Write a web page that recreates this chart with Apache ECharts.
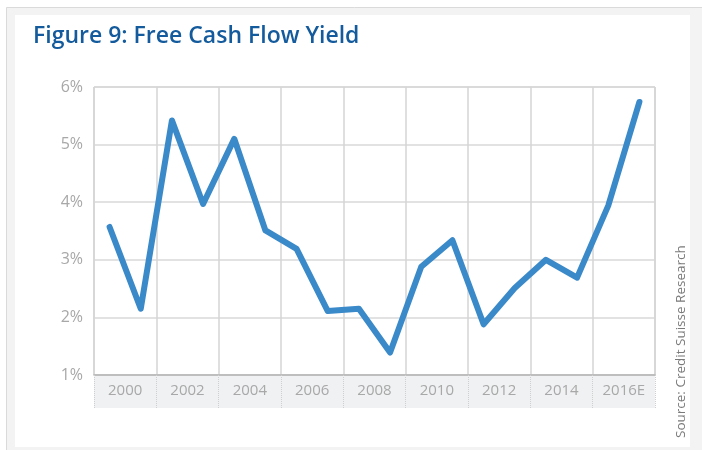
<!DOCTYPE html>
<html>
<head>
<meta charset="utf-8">
<script src="https://cdn.jsdelivr.net/npm/echarts@6/dist/echarts.min.js"></script>
<style>
  html, body { margin: 0; padding: 0; background: #fff; }
  #chart { width: 702px; height: 450px; }
</style>
</head>
<body>
<div id="chart"></div>
<script>
// label bands (two years each) and yearly points
var bandLabels = ['2000', '2002', '2004', '2006', '2008', '2010', '2012', '2014', '2016E'];
var years = ['1999', '2000', '2001', '2002', '2003', '2004', '2005', '2006', '2007',
  '2008', '2009', '2010', '2011', '2012', '2013', '2014', '2015', '2016E'];
var fcfYield = [3.57, 2.15, 5.42, 3.97, 5.1, 3.51, 3.19, 2.11, 2.15,
  1.39, 2.88, 3.34, 1.88, 2.51, 3.0, 2.69, 3.94, 5.74];
var yTicks = [1, 6, 1]; // min, max, step

var fontFam = '"Open Sans", "Noto Sans", sans-serif';
var myChart = echarts.init(document.getElementById('chart'));

var option = {
  backgroundColor: '#fff',
  animation: false,
  title: {
    text: 'Figure 9: Free Cash Flow Yield',
    left: 28,
    top: 20,
    textStyle: {
      color: '#135b9c',
      fontSize: 23,
      fontWeight: 600,
      fontFamily: fontFam
    }
  },
  graphic: [
    {
      type: 'rect', z: -100, silent: true,
      shape: { x: 6.5, y: 7.5, width: 700, height: 450 },
      style: { fill: '#f3f3f3', stroke: '#dadada', lineWidth: 1 }
    },
    {
      type: 'rect', z: -99, silent: true,
      shape: { x: 15, y: 15, width: 675, height: 432 },
      style: { fill: '#fff' }
    },
    {
      type: 'rect', z: -98, silent: true,
      shape: { x: 94, y: 375, width: 561, height: 33 },
      style: { fill: '#f0f1f3' }
    },
    {
      type: 'text', z: 10, silent: true,
      x: 681, y: 438, rotation: Math.PI / 2,
      style: {
        text: 'Source: Credit Suisse Research',
        fill: '#7a7a7a',
        fontSize: 13.5,
        fontFamily: fontFam,
        align: 'left',
        verticalAlign: 'middle'
      }
    }
  ],
  grid: {
    left: 94,
    right: 47,
    top: 87,
    bottom: 75,
    show: true,
    borderColor: '#bdbdbd',
    borderWidth: 1
  },
  xAxis: [{
    type: 'category',
    data: bandLabels,
    boundaryGap: true,
    axisLine: { show: true, lineStyle: { color: '#b5b5b5', width: 1.5 } },
    axisTick: {
      show: true,
      length: 33,
      lineStyle: { color: '#cfcfcf', type: 'dotted', width: 1 }
    },
    axisLabel: {
      color: '#a8a8a8',
      fontSize: 15,
      fontFamily: fontFam,
      margin: 8
    },
    splitLine: { show: true, lineStyle: { color: '#d4d4d4', width: 1.5 } }
  }, {
    type: 'category',
    data: years,
    position: 'bottom',
    boundaryGap: true,
    show: false
  }],
  yAxis: {
    type: 'value',
    min: yTicks[0],
    max: yTicks[1],
    interval: yTicks[2],
    axisLine: { show: false },
    axisTick: { show: false },
    axisLabel: {
      color: '#a8a8a8',
      fontSize: 16,
      fontFamily: fontFam,
      margin: 11,
      formatter: '{value}%'
    },
    splitLine: { show: true, lineStyle: { color: '#d9d9d9', width: 1.5 } }
  },
  series: [{
    name: 'Free Cash Flow Yield',
    type: 'line',
    xAxisIndex: 1,
    data: fcfYield,
    showSymbol: false,
    symbol: 'none',
    lineStyle: {
      color: '#3a89c9',
      width: 6,
      cap: 'round',
      join: 'round'
    }
  }]
};
myChart.setOption(option);
</script>
</body>
</html>
